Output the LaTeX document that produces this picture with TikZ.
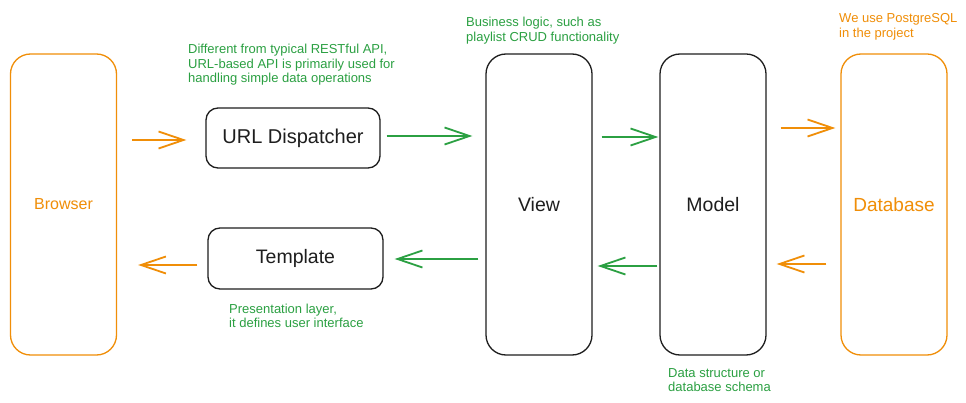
\documentclass[tikz,border=0pt]{standalone}
\usepackage{fontspec}
\setmainfont{Liberation Sans}
\usetikzlibrary{arrows.meta,calc}
\definecolor{orangeC}{RGB}{240,142,8}
\definecolor{greenC}{RGB}{43,160,66}
\definecolor{inkC}{RGB}{30,30,30}
\begin{document}
\begin{tikzpicture}[x=1pt,y=-1pt,
  tallbox/.style={draw, rounded corners=20pt, minimum width=106pt, minimum height=301pt, inner sep=0pt, line width=1.3pt},
  smallbox/.style={draw=inkC, rounded corners=12pt, inner sep=0pt, line width=1.3pt, text=inkC},
  blackbox/.style={tallbox, draw=inkC, text=inkC, font=\fontsize{19.5}{22}\selectfont},
  orangebox/.style={tallbox, draw=orangeC, text=orangeC},
  conn/.style={line width=1.8pt, -{Straight Barb[length=25pt,width=17pt,line width=1.8pt]}},
  oconn/.style={conn, draw=orangeC},
  gconn/.style={conn, draw=greenC},
  note/.style={anchor=base west, inner sep=0pt, font=\fontsize{13}{14.5}\selectfont}
]
\useasboundingbox[fill=white] (0,0) rectangle (966,403);

\node[orangebox, font=\fontsize{16}{20}\selectfont] (browser) at (63.5,204.5) {Browser};
\node[blackbox] (view) at (539,204.5) {View};
\node[blackbox] (model) at (713,204.5) {Model};
\node[orangebox, font=\fontsize{19}{22}\selectfont] (db) at (894,204.5) {Database};
\node[smallbox, minimum width=174pt, minimum height=60pt, font=\fontsize{20}{22}\selectfont] (url) at (293,138) {URL Dispatcher};
\node[smallbox, minimum width=175pt, minimum height=61pt, font=\fontsize{19.5}{22}\selectfont] (tmpl) at (295.5,258.5) {Template};

\coordinate (yA) at (0,140);
\coordinate (yB) at (0,136);
\coordinate (yC) at (0,137);
\coordinate (yD) at (0,128);
\coordinate (yE) at (0,264);
\coordinate (yF) at (0,266);
\coordinate (yG) at (0,259);
\coordinate (yH) at (0,265);

\draw[oconn, shorten <=15pt, shorten >=19pt] (browser.east |- yA) -- (url.west |- yA);
\draw[gconn, shorten <=6pt, shorten >=13pt] (url.east |- yB) -- (view.west |- yB);
\draw[gconn, shorten <=9pt, shorten >=1pt] (view.east |- yC) -- (model.west |- yC);
\draw[oconn, shorten <=14pt, shorten >=5pt] (model.east |- yD) -- (db.west |- yD);
\draw[oconn, shorten <=14pt, shorten >=10pt] (db.west |- yE) -- (model.east |- yE);
\draw[gconn, shorten <=2pt, shorten >=5pt] (model.west |- yF) -- (view.east |- yF);
\draw[gconn, shorten <=7pt, shorten >=11pt] (view.west |- yG) -- (tmpl.east |- yG);
\draw[oconn, shorten <=10pt, shorten >=21pt] (tmpl.west |- yH) -- (browser.east |- yH);

\node[note, text=greenC] (n1) at (188,54) {\begin{tabular}[t]{@{}l@{}}Different from typical RESTful API,\\URL-based API is primarily used for\\handling simple data operations\end{tabular}};
\node[note, text=greenC] (n2) at (466,27) {\begin{tabular}[t]{@{}l@{}}Business logic, such as\\playlist CRUD functionality\end{tabular}};
\node[note, text=orangeC] (n3) at (839,23) {\begin{tabular}[t]{@{}l@{}}We use PostgreSQL\\in the project\end{tabular}};
\node[note, text=greenC] (n4) at (229,313) {\begin{tabular}[t]{@{}l@{}}Presentation layer,\\it defines user interface\end{tabular}};
\node[note, text=greenC] (n5) at (668,377) {\begin{tabular}[t]{@{}l@{}}Data structure or\\database schema\end{tabular}};
\end{tikzpicture}
\end{document}
